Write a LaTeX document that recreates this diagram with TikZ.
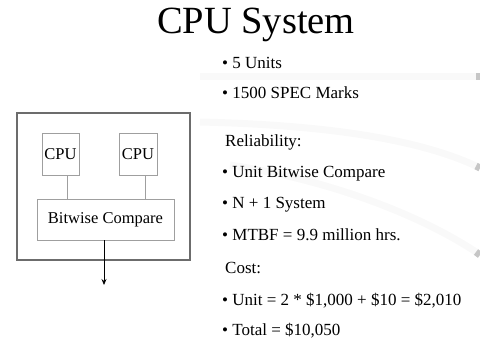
\documentclass[tikz,border=0pt]{standalone}
\usepackage{fontspec}
\setmainfont{Liberation Serif}
\usetikzlibrary{arrows.meta}
\begin{document}
\begin{tikzpicture}[x=1pt,y=-1pt,
  box/.style={draw=gray!75,line width=0.9pt,inner sep=0pt,font=\fontsize{16.5}{19}\selectfont},
  outerbox/.style={draw=gray!85!black,line width=1.3pt,inner sep=0pt},
  link/.style={draw=gray!75,line width=0.9pt},
  txt/.style={anchor=base west,inner sep=0pt,font=\fontsize{17}{20}\selectfont},
  swoosh/.style={draw=gray!5,line width=7pt},
  tab/.style={draw=gray!45,line width=7pt}]
\useasboundingbox (0,0) rectangle (480,341);
% faint background swooshes
\draw[swoosh] (200,76) -- (476,76);
\draw[tab] (476,76) -- (480,76);
\draw[swoosh] (200,122) .. controls (330,125) and (420,140) .. (476,166);
\draw[tab] (476,166) -- (480,168);
\draw[swoosh] (230,165) .. controls (330,180) and (420,215) .. (476,252);
\draw[tab] (476,252) -- (480,255);
% title
\node[inner sep=0pt,font=\fontsize{38.5}{44}\selectfont] (title) at (256,25) {CPU System};
% diagram
\node[outerbox,minimum width=173pt,minimum height=147pt] (outer) at (103.5,186.5) {};
\node[box,minimum width=37pt,minimum height=42pt] (c1) at (60.5,154) {CPU};
\node[box,minimum width=38pt,minimum height=42pt] (c2) at (138,154) {CPU};
\node[box,minimum width=137pt,minimum height=41pt] (bc) at (105.5,219.5) {Bitwise Compare};
\draw[link] ([xshift=6.5pt]c1.south) -- ([xshift=6.5pt]c1.south |- bc.north);
\draw[link] ([xshift=7pt]c2.south) -- ([xshift=7pt]c2.south |- bc.north);
\coordinate (out) at (104,285);
\draw[line width=0.8pt,-{Stealth[length=6pt,width=5pt]}] (bc.south -| out) -- (out);
% text
\node[txt] (t1) at (222,68) {\textbullet\ 5 Units};
\node[txt] (t2) at (222,98.5) {\textbullet\ 1500 SPEC Marks};
\node[txt] (t3) at (225,146) {Reliability:};
\node[txt] (t4) at (222,177) {\textbullet\ Unit Bitwise Compare};
\node[txt] (t5) at (222,208.5) {\textbullet\ N + 1 System};
\node[txt] (t6) at (222,240) {\textbullet\ MTBF = 9.9 million hrs.};
\node[txt] (t7) at (225,273) {Cost:};
\node[txt] (t8) at (222,305) {\textbullet\ Unit = 2 * \$1,000 + \$10 = \$2,010};
\node[txt] (t9) at (222,335) {\textbullet\ Total = \$10,050};
\end{tikzpicture}
\end{document}
